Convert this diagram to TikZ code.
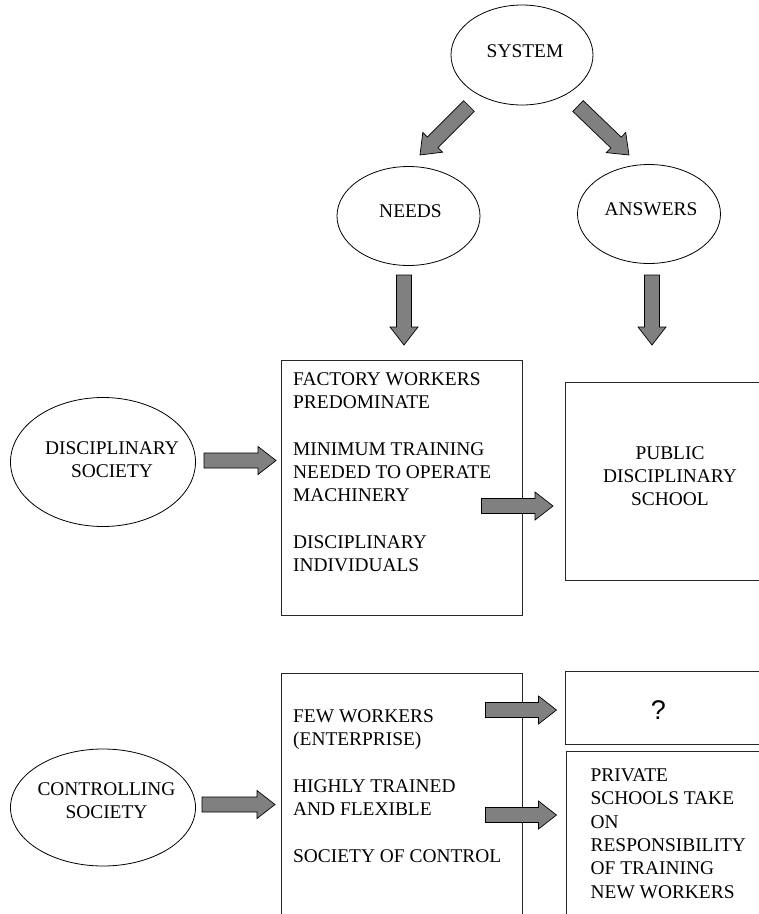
\documentclass[tikz,border=0pt]{standalone}
\usepackage{fontspec}
\setmainfont{Liberation Serif}
\newfontfamily\qfont{Liberation Sans}
\usetikzlibrary{calc,shapes.geometric}
\definecolor{arrowgray}{RGB}{128,128,128}
\begin{document}
\begin{tikzpicture}[x=1pt,y=-1pt,
  every node/.style={font=\fontsize{19.4}{23.3}\selectfont, inner sep=0pt},
  oval/.style={draw=black, line width=0.8pt, ellipse, inner sep=0pt},
  frame/.style={draw=black!85, line width=0.9pt, rectangle, anchor=north west},
  txt/.style={align=left, anchor=north west},
  blockarrow/.style={draw=black, fill=arrowgray, line width=0.7pt, line join=miter,
    to path={
      -- ($(\tikztostart)!7.5pt!90:(\tikztotarget)$)
      -- ($(\tikztotarget)!18pt!(\tikztostart)!7.5pt!-90:(\tikztostart)$)
      -- ($(\tikztotarget)!18pt!(\tikztostart)!14pt!-90:(\tikztostart)$)
      -- (\tikztotarget)
      -- ($(\tikztotarget)!18pt!(\tikztostart)!14pt!90:(\tikztostart)$)
      -- ($(\tikztotarget)!18pt!(\tikztostart)!7.5pt!90:(\tikztostart)$)
      -- ($(\tikztostart)!7.5pt!-90:(\tikztotarget)$)
      -- cycle}}
]
\useasboundingbox (0,0) rectangle (759,914);
\clip (0,0) rectangle (759,914);

% ovals
\node[oval, minimum width=142pt, minimum height=100pt,
      label={[yshift=4pt, xshift=3pt]center:SYSTEM}] (sys) at (522,55) {};
\node[oval, minimum width=143pt, minimum height=99pt,
      label={[yshift=5pt, xshift=2pt]center:NEEDS}] (needs) at (408.5,216) {};
\node[oval, minimum width=143pt, minimum height=99pt,
      label={[yshift=5pt, xshift=2pt]center:ANSWERS}] (answers) at (649,214) {};
\node[oval, minimum width=185pt, minimum height=129pt,
      label={[align=center, xshift=9pt, yshift=2pt]center:{DISCIPLINARY\\SOCIETY}}] (dsoc) at (103,462) {};
\node[oval, minimum width=185pt, minimum height=117pt,
      label={[align=center, xshift=3.5pt, yshift=6.5pt]center:{CONTROLLING\\SOCIETY}}] (csoc) at (103,807.5) {};

% boxes
\node[frame, minimum width=241pt, minimum height=255pt] (fac) at (281,360) {};
\node[frame, minimum width=210pt, minimum height=198pt] (pub) at (565,382) {};
\node[frame, minimum width=241pt, minimum height=300pt] (few) at (281,673) {};
\node[frame, minimum width=210pt, minimum height=73pt] (q) at (565,670.5) {};
\node[frame, minimum width=210pt, minimum height=220pt] (priv) at (566,751) {};

% box texts
\node[txt] (factxt) at ($(fac.north west)+(12,12.3)$)
  {FACTORY WORKERS\\PREDOMINATE\\[23.3pt]MINIMUM TRAINING\\NEEDED TO OPERATE\\MACHINERY\\[23.3pt]DISCIPLINARY\\INDIVIDUALS};
\node[align=center] (pubtxt) at (670,476) {PUBLIC\\DISCIPLINARY\\SCHOOL};
\node[txt] (fewtxt) at ($(few.north west)+(12,36.2)$)
  {FEW WORKERS\\(ENTERPRISE)\\[23.3pt]HIGHLY TRAINED\\AND FLEXIBLE\\[23.3pt]SOCIETY OF CONTROL};
\node[font=\qfont\fontsize{27}{30}\selectfont] (qtxt) at (658.5,710) {?};
\node[txt] (privtxt) at ($(priv.north west)+(24.5,17.5)$)
  {PRIVATE\\SCHOOLS TAKE\\ON\\RESPONSIBILITY\\OF TRAINING\\NEW WORKERS};

% block arrow ends
\coordinate (s1) at (469,106);   \coordinate (e1) at (420,155);
\coordinate (s2) at (578,106);   \coordinate (e2) at (629,155);
\coordinate (s3) at (404,275);   \coordinate (e3) at (404,345);
\coordinate (s4) at (652,275);   \coordinate (e4) at (652,345);
\coordinate (s5) at (204,460.5); \coordinate (e5) at (276,460.5);
\coordinate (s6) at (481.5,506); \coordinate (e6) at (553,506);
\coordinate (s7) at (202,804.5); \coordinate (e7) at (275,804.5);
\coordinate (s8) at (485.5,710); \coordinate (e8) at (556.5,710);
\coordinate (s9) at (485.5,815); \coordinate (e9) at (556.5,815);

\foreach \i in {1,...,9} {
  \draw[blockarrow] (s\i) to (e\i);
}
\end{tikzpicture}
\end{document}
